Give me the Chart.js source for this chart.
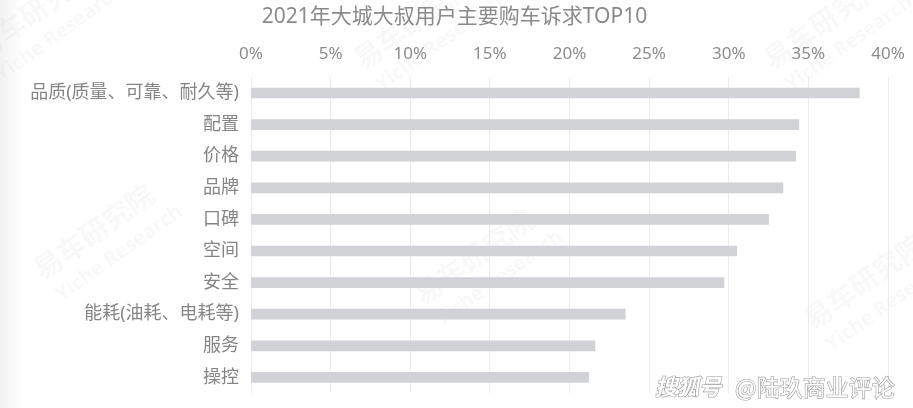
<!DOCTYPE html>
<html lang="zh">
  <head>
    <meta charset="UTF-8" />
    <script src="https://cdn.jsdelivr.net/npm/chart.js@4.4.0/dist/chart.umd.min.js"></script>
    <title>购车诉求TOP10</title>
    <style>
      html, body { margin: 0; padding: 0; background: #fff; }
      #wrap { width: 913px; height: 408px; }
    </style>
  </head>
  <body>
    <div id="wrap"><canvas id="myChart" width="913" height="408"></canvas></div>
    <script>
      const titleText = "2021年大城大叔用户主要购车诉求TOP10";
      const categories = [
        "品质(质量、可靠、耐久等)",
        "配置",
        "价格",
        "品牌",
        "口碑",
        "空间",
        "安全",
        "能耗(油耗、电耗等)",
        "服务",
        "操控",
      ];
      const shares = [38.2, 34.4, 34.2, 33.4, 32.5, 30.5, 29.7, 23.5, 21.6, 21.2];
      const xTicks = [0, 5, 10, 15, 20, 25, 30, 35, 40];

      const fontFam = "'Noto Sans', 'Noto Sans CJK SC', sans-serif";

      // faint watermarks + left shading + source tag
      const decor = {
        id: "decor",
        beforeDraw(chart) {
          const c = chart.ctx;
          c.save();
          const g = c.createLinearGradient(0, 0, 22, 0);
          g.addColorStop(0, "rgba(0,0,0,0.05)");
          g.addColorStop(1, "rgba(0,0,0,0)");
          c.fillStyle = g;
          c.fillRect(0, 0, 22, 408);
          const spots = [[40, 20], [420, 30], [830, 30], [100, 240], [480, 265], [870, 290]];
          spots.forEach(([x, y]) => {
            c.save();
            c.translate(x, y);
            c.rotate(-0.62);
            c.fillStyle = "rgba(0,0,0,0.028)";
            c.textAlign = "center";
            c.font = "bold 28px 'Noto Sans CJK SC'";
            c.fillText("易车研究院", 0, 0);
            c.font = "bold 20px 'Open Sans'";
            c.fillText("Yiche Research", 8, 28);
            c.restore();
          });
          c.restore();
        },
        afterDraw(chart) {
          const c = chart.ctx;
          c.save();
          c.textBaseline = "middle";
          c.lineWidth = 1.2;
          c.strokeStyle = "#9a9a9a";
          c.fillStyle = "#ffffff";
          c.font = "italic bold 22px 'Noto Sans CJK SC'";
          c.strokeText("搜狐号", 655, 387);
          c.fillText("搜狐号", 655, 387);
          c.font = "23px 'Noto Sans CJK SC'";
          c.strokeText("@陆玖商业评论", 735, 387);
          c.fillText("@陆玖商业评论", 735, 387);
          c.restore();
        },
      };

      const ctx = document.getElementById("myChart");
      const myChart = new Chart(ctx, {
        type: "bar",
        data: {
          labels: categories,
          datasets: [
            {
              data: shares,
              backgroundColor: "#d0d2d5",
              barThickness: 10,
            },
          ],
        },
        options: {
          indexAxis: "y",
          responsive: false,
          animation: false,
          layout: { padding: { left: 21, right: 25, bottom: 4 } },
          plugins: {
            legend: { display: false },
            tooltip: { enabled: false },
            title: {
              display: true,
              text: titleText,
              color: "#8a8a8a",
              font: { family: fontFam, size: 21, weight: "normal" },
              padding: { top: 4, bottom: 4 },
            },
          },
          scales: {
            x: {
              position: "top",
              min: 0,
              max: 40,
              afterBuildTicks: (s) => { s.ticks = xTicks.map((v) => ({ value: v })); },
              afterFit: (s) => {
                s.height = 44;
                s.paddingLeft = 0;
                s.paddingRight = 0;
              },
              ticks: {
                color: "#8c8c8c",
                font: { family: fontFam, size: 17 },
                padding: 13,
                callback: (v) => v + "%",
              },
              grid: { color: "#ececec", drawTicks: false },
              border: { display: false },
            },
            y: {
              afterFit: (s) => { s.width = 230; },
              ticks: {
                color: "#858585",
                font: { family: fontFam, size: 18 },
                padding: 4,
              },
              grid: { display: false },
              border: { display: false },
            },
          },
        },
        plugins: [decor],
      });
    </script>
  </body>
</html>
